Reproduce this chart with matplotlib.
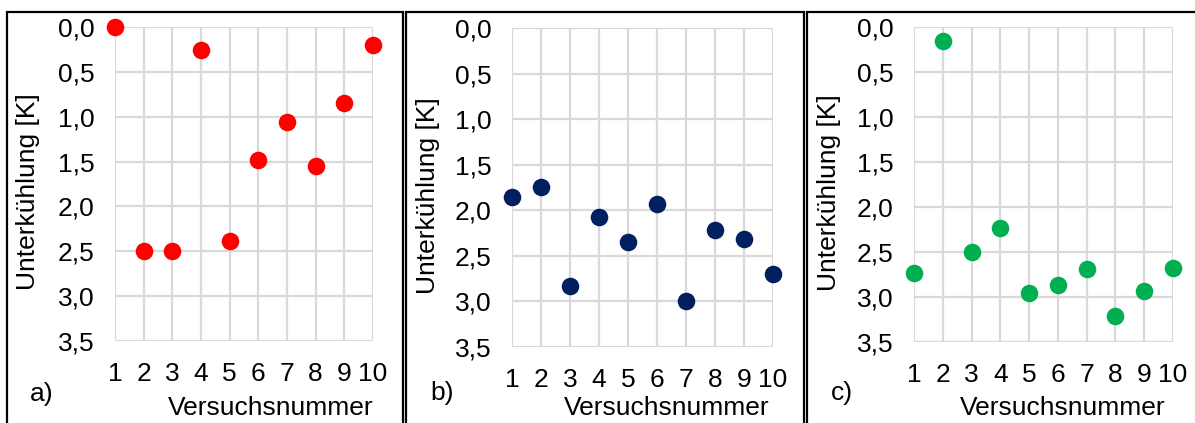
import matplotlib.pyplot as plt
from matplotlib.patches import Rectangle

plt.rcParams['font.family'] = ['Liberation Sans', 'DejaVu Sans']

# Versuchsnummer 1..10 and Unterkuehlung [K] for the three test series
versuch = [1, 2, 3, 4, 5, 6, 7, 8, 9, 10]
unterkuehlung_a = [0.00, 2.50, 2.50, 0.26, 2.38, 1.48, 1.06, 1.55, 0.85, 0.20]
unterkuehlung_b = [1.85, 1.74, 2.83, 2.07, 2.35, 1.93, 3.00, 2.22, 2.31, 2.70]
unterkuehlung_c = [2.73, 0.16, 2.50, 2.23, 2.95, 2.87, 2.69, 3.21, 2.93, 2.68]
yticks = [0.0, 0.5, 1.0, 1.5, 2.0, 2.5, 3.0, 3.5]
ytick_labels = ['0,0', '0,5', '1,0', '1,5', '2,0', '2,5', '3,0', '3,5']
panel_labels = ['a)', 'b)', 'c)']
colors = ['#ff0000', '#002060', '#00b050']

W, H = 1195, 423
fig = plt.figure(figsize=(W / 100, H / 100), dpi=100)

# pixel layout: plot area (left, top, right, bottom), frame (left, right)
layout = [
    dict(plot=(115, 27, 373, 341), frame=(7, 403), ylab=28, lab=(42, 394), xlab=271),
    dict(plot=(512, 28, 773, 347), frame=(406, 804), ylab=428, lab=(442, 393), xlab=667),
    dict(plot=(914, 27, 1173, 342), frame=(807, 1200), ylab=829, lab=(842, 393), xlab=1063),
]
series = [unterkuehlung_a, unterkuehlung_b, unterkuehlung_c]

fs = 19
for i, (lay, vals) in enumerate(zip(layout, series)):
    l, t, r, b = lay['plot']
    ax = fig.add_axes([l / W, 1 - b / H, (r - l) / W, (b - t) / H])
    ax.scatter(versuch, vals, s=160, color=colors[i], zorder=3, clip_on=False, linewidths=0)
    ax.set_xlim(1, 10)
    ax.set_ylim(3.5, 0)
    ax.set_xticks(versuch)
    ax.set_yticks(yticks)
    ax.set_yticklabels(ytick_labels)
    ax.tick_params(length=0, labelsize=fs, pad=15)
    ax.grid(True, color='#d9d9d9', linewidth=1.6)
    ax.set_axisbelow(True)
    for s in ax.spines.values():
        s.set_visible(False)

    fig.text(lay['ylab'] / W, 1 - ((t + b) / 2 + 8) / H, 'Unterkühlung [K]', rotation=90,
             ha='center', va='center', fontsize=fs)
    fig.text(lay['xlab'] / W, 1 - 408 / H, 'Versuchsnummer', ha='center', va='center', fontsize=fs)
    fig.text(lay['lab'][0] / W, 1 - lay['lab'][1] / H, panel_labels[i], ha='center', va='center',
             fontsize=fs)

    fl, fr = lay['frame']
    fig.patches.append(Rectangle((fl / W, -0.05), (fr - fl) / W, 1.05 - 12 / H,
                                 transform=fig.transFigure, fill=False,
                                 edgecolor='black', linewidth=1.6))

fig.savefig('out.png', dpi=100)
